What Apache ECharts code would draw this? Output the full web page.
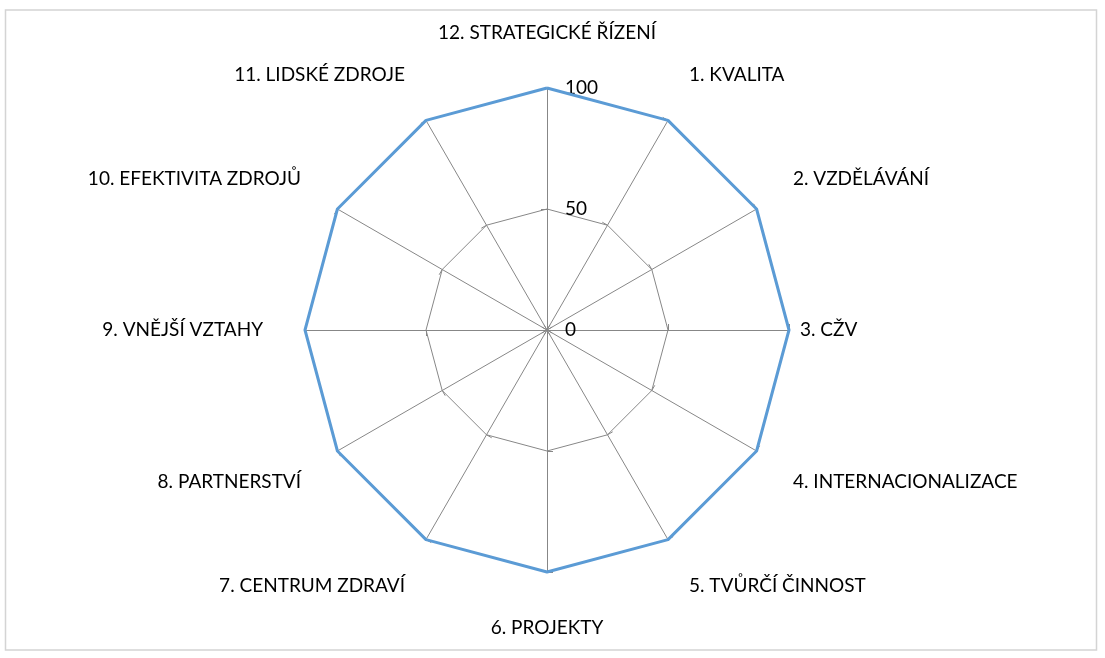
<!DOCTYPE html>
<html>

<head>
    <meta charset="UTF-8">
    <style type="text/css">
        body {
            margin: 0;
            padding: 0;
            overflow: hidden;
            background: #fff;
        }

        #chart {
            width: 1105px;
            height: 658px;
            position: absolute
        }
    </style>
</head>

<body>
    <div id="chart"></div>
    <script src="https://cdn.jsdelivr.net/npm/echarts@6/dist/echarts.min.js"></script>
    <script>
        // oblasti v poradi 1..12
        let CATEGORIES = ['1. KVALITA', '2. VZDĚLÁVÁNÍ', '3. CŽV', '4. INTERNACIONALIZACE', '5. TVŮRČÍ ČINNOST',
            '6. PROJEKTY', '7. CENTRUM ZDRAVÍ', '8. PARTNERSTVÍ', '9. VNĚJŠÍ VZTAHY', '10. EFEKTIVITA ZDROJŮ',
            '11. LIDSKÉ ZDROJE', '12. STRATEGICKÉ ŘÍZENÍ'];
        let VALUES = [100, 100, 100, 100, 100, 100, 100, 100, 100, 100, 100, 100];
        let AXIS_MIN = 0;
        let AXIS_MAX = 100;

        let FONT = 'Lato';

        // posun popisku nahoru/dolu podle pozice (jako v Excelu)
        function nameStyle(name) {
            let n = parseInt(name);
            if (n === 12) return { padding: [0, 0, 4, 0] };
            if (n === 6) return { padding: [4, 0, 0, 0] };
            if (n === 1 || n === 2 || n === 10 || n === 11) return { verticalAlign: 'bottom' };
            if (n === 4 || n === 5 || n === 7 || n === 8) return { verticalAlign: 'top' };
            return {};
        }

        // radar jde proti smeru hodin od vrcholu -> 12, 11, ..., 1
        let order = CATEGORIES.map((c, i) => i).reverse();
        let indicator = order.map((i, k) => {
            let ind = {
                name: CATEGORIES[i], min: AXIS_MIN, max: AXIS_MAX,
                nameTextStyle: nameStyle(CATEGORIES[i])
            };
            if (k === 0) {
                ind.axisLabel = { show: true };
            }
            if (CATEGORIES[i] === '3. CŽV') {
                ind.nameGap = 11;
            }
            return ind;
        });
        let values = order.map(i => VALUES[i]);

        var myChart = echarts.init(document.getElementById('chart'));

        let option = {
            animation: false,
            graphic: [{
                type: 'rect',
                shape: { x: 5.5, y: 10, width: 1091, height: 640 },
                style: { fill: 'none', stroke: '#d4d4d4', lineWidth: 1.5 }
            }],
            radar: {
                center: [547, 330],
                radius: 242,
                startAngle: 90,
                splitNumber: 2,
                shape: 'polygon',
                nameGap: 42,
                axisName: {
                    color: '#000',
                    fontFamily: FONT,
                    fontSize: 19
                },
                axisLine: { show: true, lineStyle: { color: '#878787', width: 1 } },
                axisTick: { show: true, length: 6, lineStyle: { color: '#878787', width: 1 } },
                splitLine: { lineStyle: { color: '#878787', width: 1 } },
                splitArea: { show: false },
                axisLabel: {
                    show: false,
                    color: '#000',
                    fontFamily: FONT,
                    fontSize: 19,
                    margin: -18,
                    align: 'left'
                },
                indicator: indicator
            },
            series: [{
                type: 'radar',
                symbol: 'none',
                lineStyle: { color: '#5B9BD5', width: 3 },
                data: [{ value: values }]
            }]
        };
        myChart.setOption(option);
    </script>
</body>

</html>
